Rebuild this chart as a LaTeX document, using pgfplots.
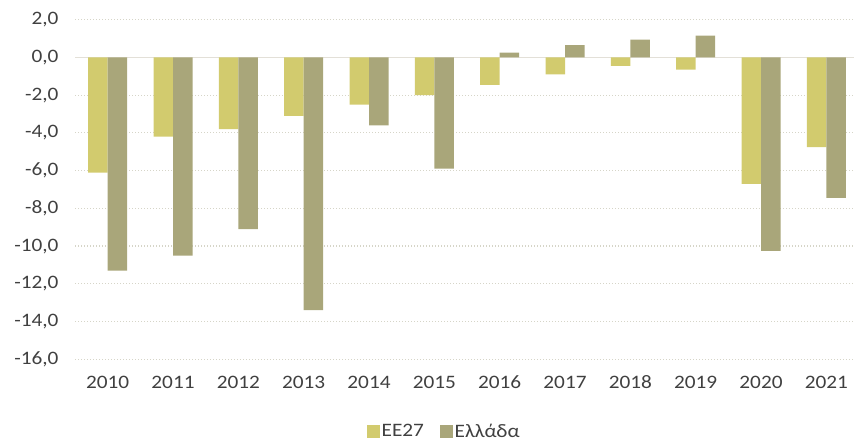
\documentclass[border=0pt]{standalone}
\usepackage{fontspec}
\setmainfont[FakeStretch=1.12]{Carlito}
\usepackage{pgfplots}
\pgfplotsset{compat=1.18}
\definecolor{cEE}{HTML}{D2CB6E}
\definecolor{cGR}{HTML}{A9A67A}
\definecolor{gridc}{HTML}{D6D5C8}
\definecolor{zeroc}{HTML}{E3E0D8}
\definecolor{txt}{HTML}{404040}
\begin{document}
\begin{tikzpicture}
\path[use as bounding box] (0,0) rectangle (854bp,444bp);
\begin{axis}[
  at={(75bp,84.7bp)}, anchor=south west,
  scale only axis, width=784bp, height=339.6bp,
  xmin=-0.5, xmax=11.5, ymin=-16, ymax=2,
  ytick={-16,-14,...,2},
  xtick={0,...,11},
  xticklabels={2010,2011,2012,2013,2014,2015,2016,2017,2018,2019,2020,2021},
  axis line style={draw=none},
  major tick length=0pt,
  ymajorgrids,
  grid style={gridc, line width=1.2bp, dash pattern=on 1.2bp off 1.8bp},
  extra y ticks={0},
  extra y tick labels={},
  extra y tick style={grid style={solid, zeroc, line width=1.3bp}},
  tick label style={font=\fontsize{19bp}{20bp}\selectfont, text=txt},
  /pgf/number format/.cd, fixed, fixed zerofill, precision=1, use comma, assume math mode=true,
  /pgfplots/.cd,
  yticklabel shift=13bp,
  xticklabel shift=13bp,
  legend style={at={(0.471,-0.212)}, anchor=center, legend columns=2, draw=none,
     font=\fontsize{19bp}{20bp}\selectfont, text=txt, inner sep=1bp,
     /tikz/every even column/.append style={column sep=14bp}},
  legend image code/.code={\fill[#1] (0bp,-6.3bp) rectangle (12.7bp,6.3bp);},
]
\addplot[ybar, bar width=19.5bp, bar shift=-9.75bp, fill=cEE, draw=none] coordinates {
 (0,-6.1) (1,-4.2) (2,-3.8) (3,-3.1) (4,-2.5) (5,-2.0) (6,-1.45) (7,-0.9) (8,-0.45) (9,-0.65) (10,-6.7) (11,-4.75)};
\addplot[ybar, bar width=19.5bp, bar shift=9.75bp, fill=cGR, draw=none] coordinates {
 (0,-11.3) (1,-10.5) (2,-9.1) (3,-13.4) (4,-3.6) (5,-5.9) (6,0.25) (7,0.65) (8,0.95) (9,1.15) (10,-10.25) (11,-7.45)};
\legend{EE27, Ελλάδα}
\end{axis}
\end{tikzpicture}
\end{document}
